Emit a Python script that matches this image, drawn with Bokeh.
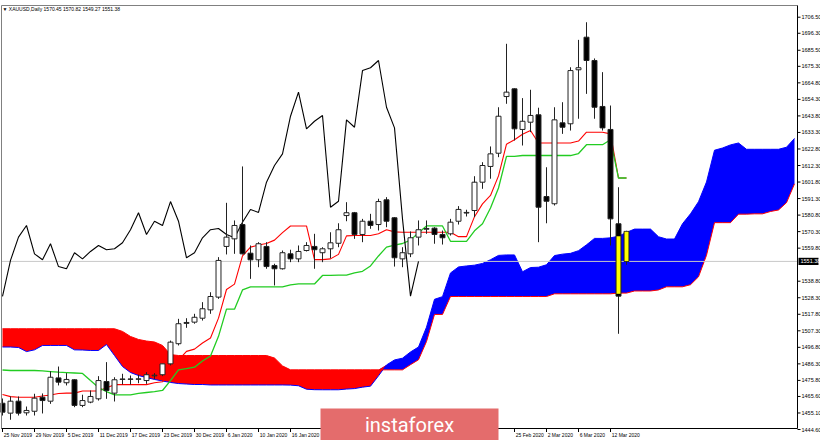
from bokeh.plotting import figure
from bokeh.models import Range1d, ColumnDataSource
from bokeh.embed import file_html
from bokeh.resources import INLINE
from bokeh.core.properties import value

# ---------------- data ----------------
header_text = "\u25bc XAUUSD,Daily 1570.45 1570.82 1549.27 1551.38"
watermark = "instaforex"

date_bars = [0, 4, 8, 12, 16, 20, 24, 28, 32, 36, 64, 68, 72, 76]
date_labels = ["25 Nov 2019", "29 Nov 2019", "5 Dec 2019", "11 Dec 2019", "17 Dec 2019",
               "23 Dec 2019", "30 Dec 2019", "6 Jan 2020", "10 Jan 2020", "16 Jan 2020",
               "25 Feb 2020", "2 Mar 2020", "6 Mar 2020", "12 Mar 2020"]

price_ticks = [1706.50, 1696.30, 1685.50, 1675.30, 1664.80, 1654.30, 1643.80, 1633.30,
               1622.80, 1612.30, 1601.80, 1591.30, 1580.80, 1570.30, 1559.80, 1538.80,
               1528.30, 1517.80, 1507.30, 1496.80, 1486.30, 1475.80, 1465.60, 1455.10, 1444.60]

opens = [1461.3, 1455.0, 1462.6, 1455.2, 1456.2, 1465.1, 1462.6, 1477.4, 1474.3, 1476.2,
         1459.9, 1462.0, 1464.1, 1475.1, 1467.7, 1476.4, 1476.7, 1476.5, 1475.7, 1478.7,
         1479.4, 1486.3, 1499.1, 1512.0, 1512.8, 1515.3, 1520.6, 1528.7, 1560.9, 1565.7,
         1574.8, 1556.6, 1552.4, 1560.9, 1548.8, 1546.7, 1556.2, 1553.0, 1558.3, 1560.9,
         1556.9, 1559.4, 1562.9, 1580.5, 1582.3, 1568.5, 1576.9, 1574.8, 1590.5, 1579.1,
         1553.0, 1556.2, 1566.8, 1571.8, 1572.5, 1568.5, 1568.9, 1576.9, 1582.1, 1583.7,
         1601.7, 1611.7, 1620.1, 1656.1, 1661.0, 1635.2, 1639.8, 1644.5, 1592.6, 1588.0,
         1639.4, 1638.8, 1673.1, 1693.8, 1679.0, 1649.8, 1635.2, 1575.3, 1570.45]
highs = [1464.3, 1465.6, 1465.6, 1459.2, 1467.3, 1467.5, 1481.6, 1484.6, 1480.4, 1476.5,
         1466.7, 1469.4, 1478.5, 1487.4, 1477.8, 1480.0, 1478.9, 1479.5, 1481.0, 1480.4,
         1486.5, 1501.1, 1514.9, 1515.3, 1518.1, 1525.5, 1531.8, 1554.1, 1588.6, 1577.4,
         1611.7, 1561.5, 1563.6, 1563.6, 1549.9, 1558.3, 1558.8, 1561.5, 1563.6, 1568.9,
         1560.4, 1569.9, 1575.6, 1589.0, 1582.8, 1578.4, 1581.6, 1591.2, 1592.2, 1579.5,
         1560.4, 1570.4, 1577.4, 1577.4, 1573.1, 1571.0, 1578.4, 1586.5, 1584.2, 1605.5,
         1614.4, 1624.4, 1649.3, 1689.6, 1661.3, 1655.1, 1660.4, 1649.0, 1611.2, 1649.3,
         1652.5, 1674.7, 1692.1, 1703.3, 1680.3, 1671.6, 1650.4, 1598.5, 1570.82]
lows = [1453.5, 1450.8, 1453.5, 1453.5, 1453.5, 1454.8, 1460.9, 1472.6, 1472.6, 1458.8,
        1458.8, 1461.3, 1463.0, 1464.1, 1462.4, 1473.2, 1473.2, 1474.0, 1473.6, 1476.6,
        1478.5, 1485.3, 1498.0, 1509.2, 1511.8, 1513.8, 1518.1, 1527.6, 1555.8, 1556.2,
        1555.8, 1540.3, 1547.7, 1546.7, 1536.1, 1546.2, 1550.9, 1550.9, 1557.7, 1546.7,
        1550.9, 1553.4, 1560.4, 1576.9, 1565.7, 1563.6, 1572.1, 1571.0, 1573.1, 1548.1,
        1547.7, 1554.1, 1561.5, 1568.9, 1562.6, 1562.1, 1567.8, 1574.8, 1579.9, 1579.5,
        1597.5, 1603.9, 1617.6, 1651.5, 1628.2, 1625.0, 1633.5, 1563.6, 1575.6, 1586.9,
        1632.4, 1634.5, 1642.0, 1657.8, 1642.0, 1634.5, 1561.5, 1505.4, 1549.27]
closes = [1455.6, 1462.6, 1455.0, 1456.7, 1464.5, 1463.0, 1477.8, 1474.7, 1476.4, 1459.9,
          1463.0, 1465.6, 1475.7, 1469.4, 1476.2, 1476.7, 1476.5, 1476.8, 1479.4, 1479.1,
          1486.3, 1500.1, 1511.8, 1512.6, 1515.9, 1521.3, 1529.1, 1552.0, 1566.8, 1574.2,
          1556.2, 1552.4, 1562.6, 1548.1, 1546.7, 1556.9, 1553.0, 1557.7, 1561.5, 1558.8,
          1559.4, 1563.2, 1571.5, 1582.3, 1568.5, 1576.9, 1574.2, 1589.4, 1576.9, 1553.7,
          1556.9, 1566.4, 1571.5, 1572.3, 1568.5, 1566.4, 1576.3, 1584.4, 1582.5, 1601.7,
          1612.3, 1619.7, 1643.6, 1658.9, 1635.6, 1640.4, 1644.1, 1585.8, 1589.6, 1641.3,
          1636.6, 1672.6, 1674.4, 1679.0, 1649.3, 1636.2, 1578.4, 1529.3, 1551.38]

tenkan = [1466.8, 1465.5, 1465.1, 1465.1, 1465.1, 1465.9, 1466.5, 1467.5, 1467.7, 1467.7,
          1469.05, 1469.05, 1469.05, 1471.1, 1473.1, 1473.1, 1473.1, 1473.1, 1473.1, 1474.35,
          1474.9, 1481.75, 1488.65, 1494.25, 1495.65, 1499.55, 1502.7, 1515.35, 1533.55, 1536.95,
          1554.85, 1560.45, 1561.75, 1562.75, 1564.9, 1569.65, 1573.9, 1573.9, 1573.9, 1552.5,
          1552.5, 1553.0, 1555.85, 1567.6, 1567.85, 1567.85, 1567.85, 1568.95, 1571.55, 1570.15,
          1569.95, 1569.95, 1569.95, 1569.95, 1569.95, 1569.95, 1569.95, 1567.1, 1567.1, 1579.8,
          1587.95, 1593.25, 1605.7, 1625.85, 1628.7, 1632.2, 1634.55, 1626.6, 1626.6, 1626.6,
          1626.6, 1626.6, 1627.85, 1633.45, 1633.45, 1633.45, 1632.4, 1604.35, 1604.35]
kijun = [1482.4, 1482.1, 1482.1, 1482.1, 1482.1, 1481.8, 1481.4, 1481.0, 1480.8, 1480.5,
         1480.2, 1475.7, 1471.3, 1468.7, 1466.6, 1466.6, 1466.6, 1467.5, 1468.1, 1468.7,
         1469.4, 1475.7, 1482.5, 1483.3, 1484.2, 1488.15, 1491.3, 1503.8, 1521.05, 1521.05,
         1533.25, 1535.25, 1535.25, 1535.25, 1535.25, 1535.25, 1536.5, 1537.05, 1537.05, 1537.05,
         1542.45, 1542.45, 1542.65, 1542.65, 1544.15, 1545.1, 1548.5, 1554.85, 1560.45, 1561.75,
         1562.75, 1564.9, 1569.65, 1573.9, 1573.9, 1573.9, 1564.15, 1564.15, 1564.15, 1570.8,
         1575.25, 1585.3, 1598.0, 1618.15, 1618.15, 1618.65, 1618.65, 1618.65, 1618.65, 1618.65,
         1618.65, 1618.65, 1619.9, 1625.5, 1625.5, 1625.5, 1628.7, 1604.35, 1604.35]
chikou = [1529.1, 1552.0, 1566.8, 1574.2, 1556.2, 1552.4, 1562.6, 1548.1, 1546.7, 1556.9,
          1553.0, 1557.7, 1561.5, 1558.8, 1559.4, 1563.2, 1571.5, 1582.3, 1568.5, 1576.9,
          1574.2, 1589.4, 1576.9, 1553.7, 1556.9, 1566.4, 1571.5, 1572.3, 1568.5, 1566.4,
          1576.3, 1584.4, 1582.5, 1601.7, 1612.3, 1619.7, 1643.6, 1658.9, 1635.6, 1640.4,
          1644.1, 1585.8, 1589.6, 1641.3, 1636.6, 1672.6, 1674.4, 1679.0, 1649.3, 1636.2,
          1578.4, 1529.3, 1551.38]
span_a = [1497.0, 1497.0, 1496.7, 1494.1, 1495.2, 1498.0, 1498.0, 1498.0, 1498.0, 1495.2,
          1495.1, 1494.8, 1494.8, 1498.6, 1491.6, 1484.6, 1480.8, 1478.9, 1477.6, 1476.4,
          1475.4, 1474.5, 1473.8, 1473.5, 1473.2, 1473.2, 1472.9, 1472.9, 1472.9, 1472.9,
          1472.9, 1472.9, 1472.9, 1472.9, 1472.9, 1472.9, 1472.8, 1472.4, 1470.2, 1469.9,
          1469.85, 1469.85, 1469.85, 1470.3, 1470.6, 1471.5, 1472.15, 1478.7, 1485.6, 1488.8,
          1489.9, 1493.85, 1497.0, 1509.6, 1527.3, 1529.0, 1544.05, 1547.85, 1548.5, 1549.0,
          1550.1, 1552.45, 1555.2, 1555.5, 1555.5, 1544.8, 1547.5, 1547.7, 1549.25, 1555.1,
          1556.0, 1556.5, 1558.2, 1561.9, 1566.0, 1566.0, 1566.35, 1567.4, 1569.8, 1571.9,
          1571.9, 1571.9, 1567.05, 1565.6, 1565.6, 1575.3, 1581.6, 1589.3, 1601.85, 1622.0,
          1623.4, 1625.4, 1626.6, 1622.6, 1622.6, 1622.6, 1622.6, 1622.6, 1623.9, 1629.5]
span_b = [1508.6, 1508.6, 1508.6, 1508.6, 1508.6, 1508.6, 1508.6, 1508.6, 1508.6, 1508.6,
          1508.6, 1508.6, 1508.6, 1508.6, 1508.6, 1506.9, 1503.7, 1501.8, 1500.8, 1500.2,
          1498.0, 1492.2, 1491.6, 1491.6, 1491.6, 1491.6, 1491.6, 1491.6, 1491.6, 1491.6,
          1491.6, 1491.6, 1491.6, 1491.6, 1490.0, 1485.0, 1482.5, 1482.5, 1482.5, 1482.5,
          1482.5, 1482.5, 1482.5, 1482.5, 1482.5, 1482.5, 1482.5, 1482.5, 1482.5, 1482.5,
          1482.5, 1485.8, 1488.9, 1500.5, 1517.7, 1517.7, 1529.1, 1529.1, 1529.1, 1529.1,
          1529.1, 1529.1, 1529.1, 1529.1, 1529.1, 1529.1, 1529.1, 1529.1, 1529.1, 1530.8,
          1530.8, 1530.8, 1530.8, 1530.8, 1530.8, 1530.8, 1530.8, 1531.25, 1531.25, 1532.6,
          1532.6, 1532.6, 1533.25, 1535.25, 1535.25, 1535.25, 1536.6, 1541.6, 1555.3, 1576.0,
          1576.0, 1576.0, 1581.4, 1581.4, 1581.6, 1581.6, 1583.1, 1584.05, 1588.7, 1600.65]

highlight_bars = [77, 78]
highlight_top = [1567.4, 1570.2]
highlight_bottom = [1530.8, 1551.6]

# ---------------- layout constants (pixels of the 820x440 canvas) ----------------
W, H = 820, 440
BAR_PX, X0_PX = 8.0, 2.0            # bar i is drawn at x = 2 + 8*i
PY_TOP_PRICE, PY_SCALE = 1717.11, 0.6352   # price at pixel row 0, price per pixel


def bx_(px):
    return (px - X0_PX) / BAR_PX


def py_(py):
    return PY_TOP_PRICE - PY_SCALE * py


FR_L, FR_R, FR_T, FR_B = bx_(1), bx_(797), py_(5), py_(428)

p = figure(width=W, height=H, output_backend="svg", toolbar_location=None,
           x_axis_type=None, y_axis_type=None,
           x_range=Range1d(bx_(0), bx_(W)), y_range=Range1d(py_(H), py_(0)),
           min_border=0)
p.min_border_left = p.min_border_right = p.min_border_top = p.min_border_bottom = 0
p.outline_line_color = None
p.background_fill_color = "white"
p.border_fill_color = "white"

# ---------------- Ichimoku cloud ----------------
cx = list(range(len(span_a)))
cloud_hi = [max(a, b) for a, b in zip(span_a, span_b)]
p.varea(x=cx, y1=span_b, y2=cloud_hi, fill_color="#0000ff")
p.varea(x=cx, y1=span_a, y2=cloud_hi, fill_color="#ff0000")
p.line(cx, span_a, line_color="#0000ff", line_width=1)
p.line(cx, span_b, line_color="#ff0000", line_width=1)

# bid line
p.segment(x0=[FR_L], x1=[FR_R], y0=[closes[-1]], y1=[closes[-1]],
          line_color="#c8c8c8", line_width=1)

# indicator lines
tx = list(range(len(tenkan)))
p.line(tx, tenkan, line_color="#ff0000", line_width=1.1)
p.line(tx, kijun, line_color="#22cc22", line_width=1.3)
p.line(list(range(len(chikou))), chikou, line_color="#000000", line_width=1.1)

# candles
bars = list(range(len(closes)))
src = ColumnDataSource(dict(
    x=bars, high=highs, low=lows,
    top=[max(o, c) for o, c in zip(opens, closes)],
    bottom=[min(o, c) for o, c in zip(opens, closes)],
    fill=["white" if c >= o else "black" for o, c in zip(opens, closes)],
))
p.segment(x0="x", y0="high", x1="x", y1="low", source=src, line_color="#222222", line_width=1)
p.vbar(x="x", width=0.62, top="top", bottom="bottom", fill_color="fill",
       line_color="#222222", line_width=1, source=src)
p.vbar(x=highlight_bars, width=0.5, top=highlight_top, bottom=highlight_bottom,
       fill_color="#ffff00", line_color=None)

# ---------------- chart frame ----------------
p.segment(x0=[FR_L, FR_L], x1=[FR_R, FR_L], y0=[FR_T, FR_T], y1=[FR_T, FR_B],
          line_color="#808080", line_width=1)
p.segment(x0=[FR_L, FR_R], x1=[FR_R, FR_R], y0=[FR_B, FR_T], y1=[FR_B, FR_B],
          line_color="#000000", line_width=1)

# ---------------- price scale (right) ----------------
font = value("Liberation Sans")
p.segment(x0=[FR_R] * len(price_ticks), x1=[bx_(800)] * len(price_ticks),
          y0=price_ticks, y1=price_ticks, line_color="#000000", line_width=1)
p.text(x=[bx_(801)] * len(price_ticks), y=price_ticks,
       text=["%.2f" % v for v in price_ticks], text_font=font, text_font_size="5.5px",
       text_color="#000000", text_align="left", text_baseline="middle")

# ---------------- time scale (bottom) ----------------
tick_bars = list(range(0, 80, 4))
p.segment(x0=tick_bars, x1=tick_bars, y0=[FR_B] * len(tick_bars), y1=[py_(431.5)] * len(tick_bars),
          line_color="#000000", line_width=1)
p.text(x=[b + 0.15 for b in date_bars], y=[py_(434.5)] * len(date_bars), text=date_labels,
       text_font=font, text_font_size="5px", text_color="#000000",
       text_align="left", text_baseline="middle")

# ---------------- current price tag ----------------
p.quad(left=[bx_(798)], right=[bx_(818)], top=[closes[-1] + 2.3], bottom=[closes[-1] - 2.3],
       fill_color="#000000", line_color=None)
p.text(x=[bx_(800)], y=[closes[-1]], text=["%.2f" % closes[-1]], text_font=font,
       text_font_size="5.5px", text_color="#ffffff", text_align="left", text_baseline="middle")

# ---------------- header ----------------
p.text(x=[bx_(2)], y=[py_(8)], text=[header_text], text_font=font, text_font_size="5px",
       text_color="#000000", text_align="left", text_baseline="middle")

# ---------------- watermark ----------------
p.quad(left=[bx_(320)], right=[bx_(498)], top=[py_(408)], bottom=[py_(441)],
       fill_color="#e46c6c", line_color=None)
p.text(x=[bx_(409)], y=[py_(424)], text=[watermark], text_font=value("Roboto"),
       text_font_size="20px", text_color="#ffffff", text_align="center",
       text_baseline="middle")

open("out.html", "w").write(file_html(p, INLINE))
